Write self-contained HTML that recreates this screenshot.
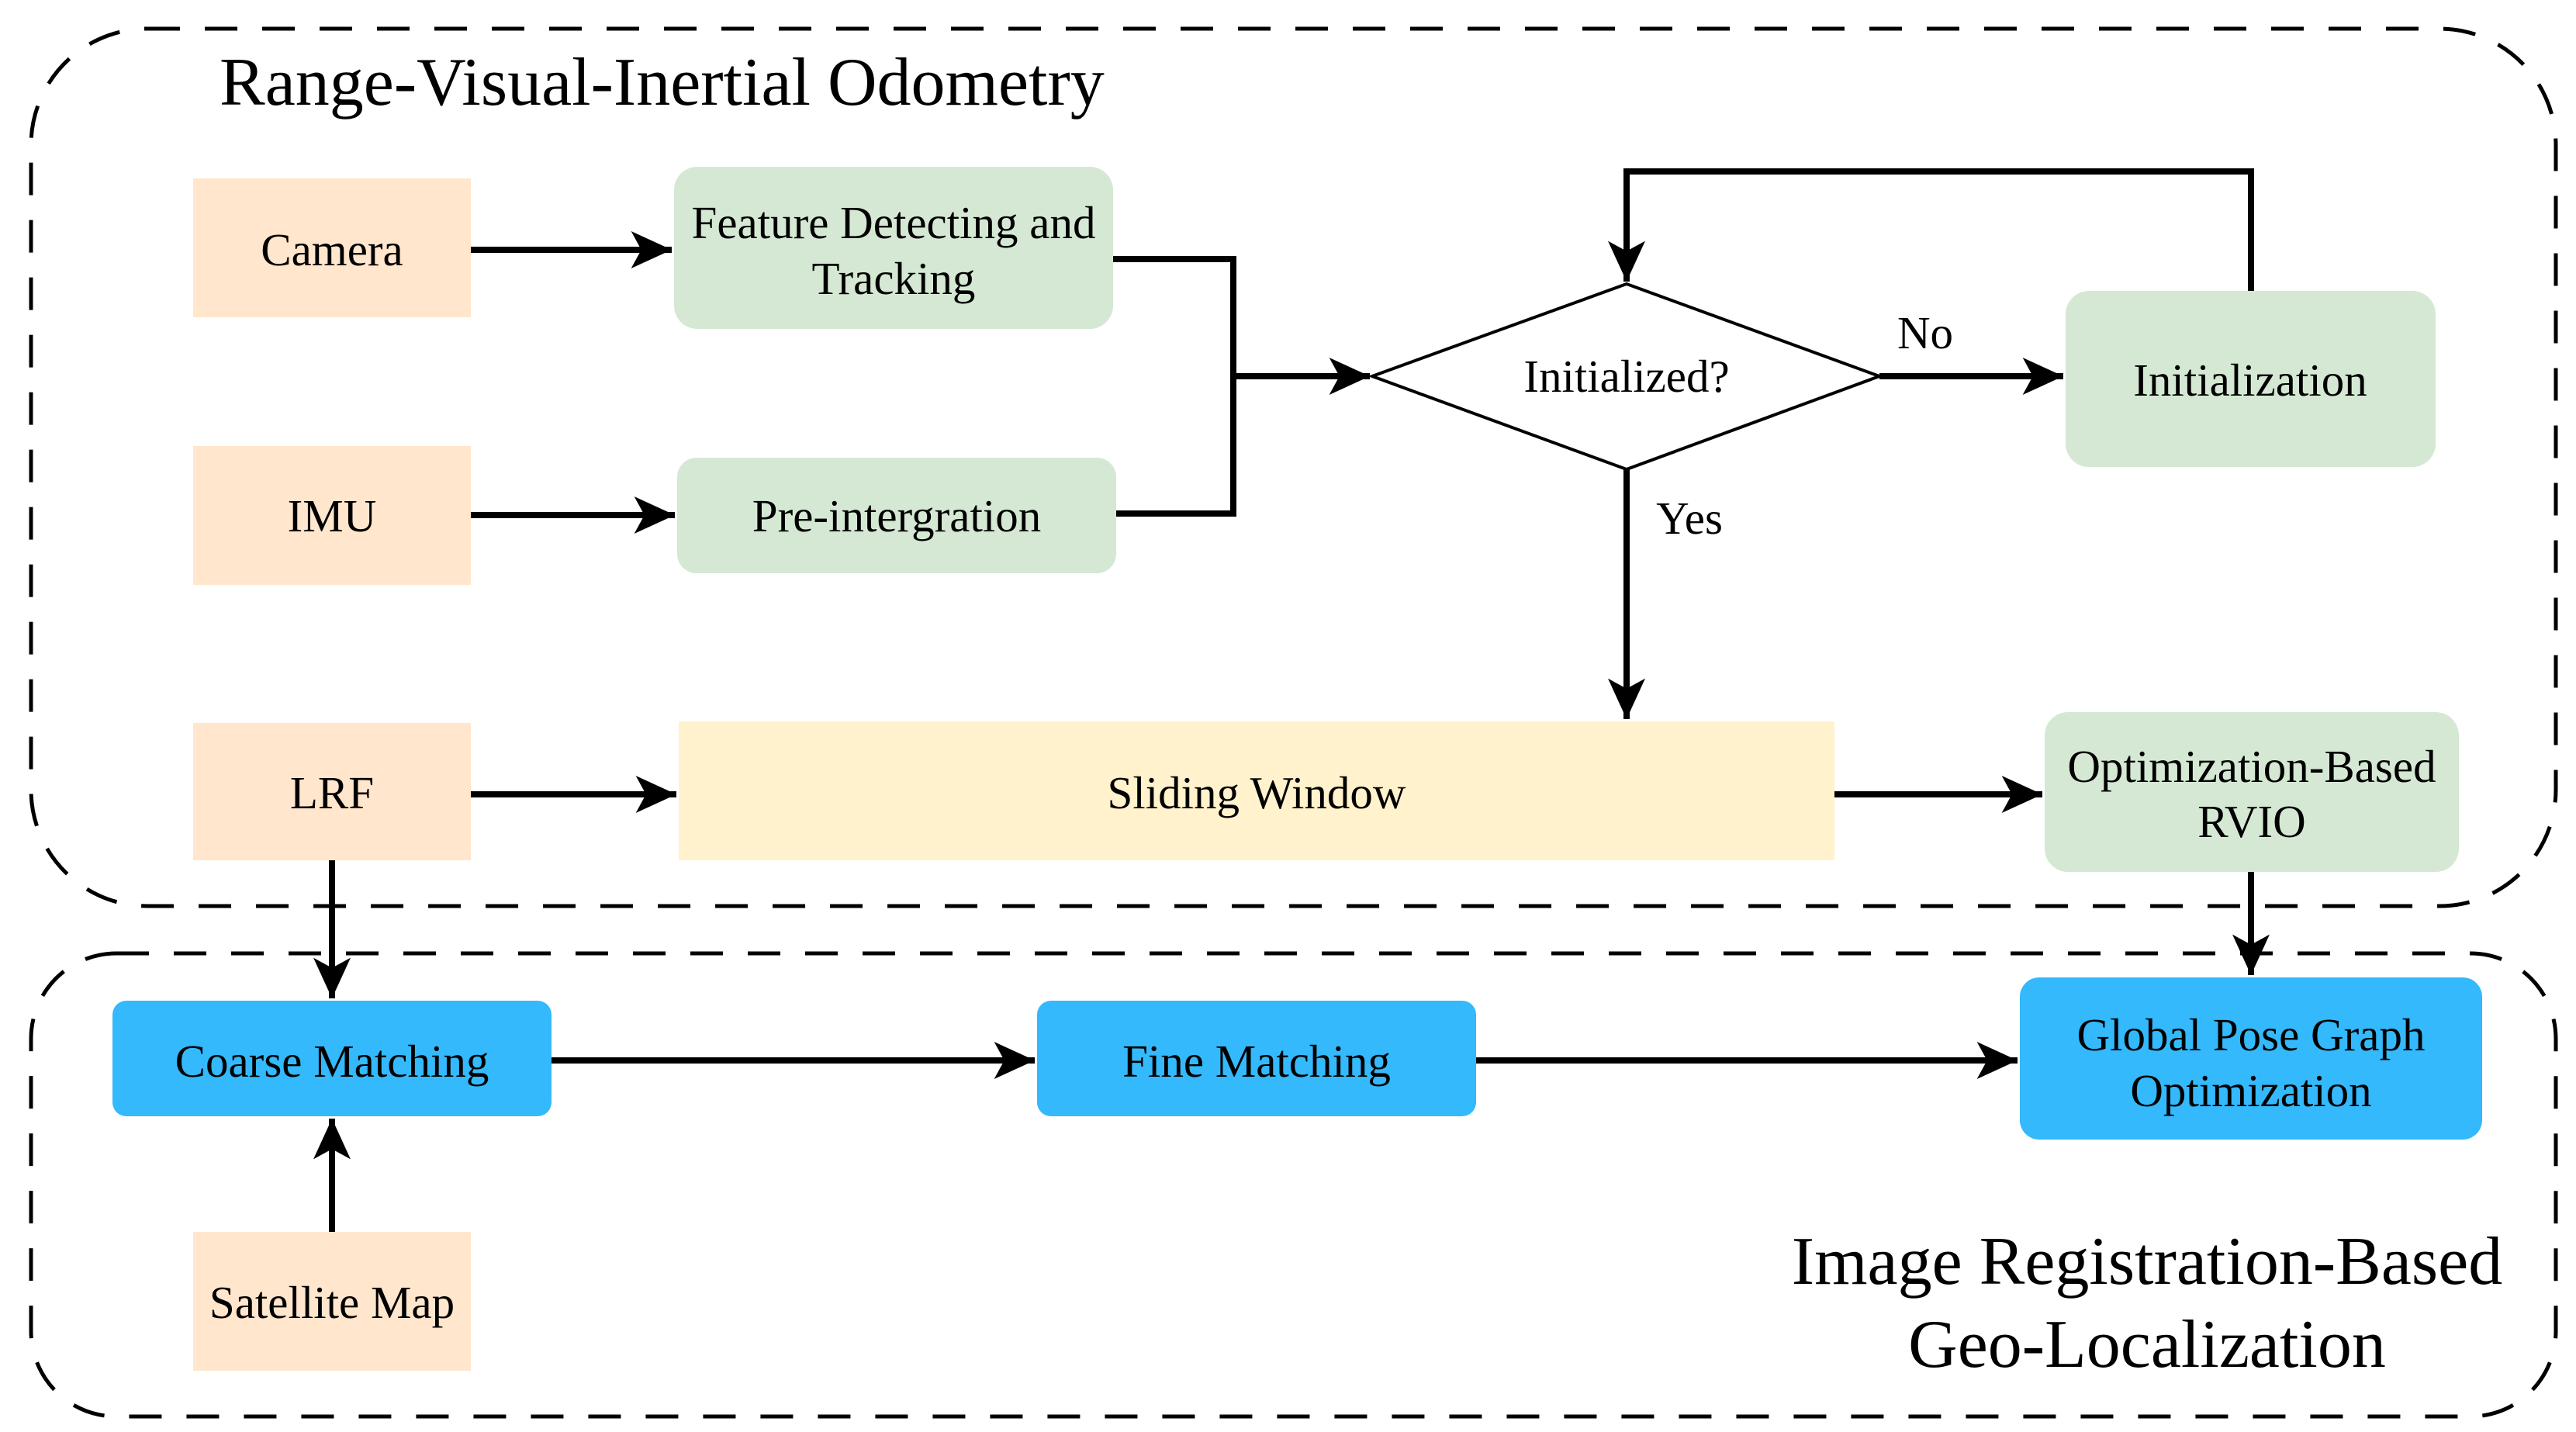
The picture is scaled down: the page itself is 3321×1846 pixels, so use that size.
<!DOCTYPE html>
<html><head><meta charset="utf-8"><style>
html,body{margin:0;padding:0;background:#fff;}
svg{display:block;}
text{font-family:"Liberation Serif",serif;fill:#000;}
</style></head><body>
<svg width="3321" height="1846" viewBox="0 0 3321 1846" xmlns="http://www.w3.org/2000/svg">
<defs>
<marker id="a" markerUnits="userSpaceOnUse" markerWidth="60" markerHeight="60" viewBox="-50 -25 55 50" refX="0" refY="0" orient="auto">
<path d="M-48,-22 L0,0 L-48,22 L-36,0 Z" fill="#000"/>
</marker>
</defs>
<rect x="40" y="37" width="3255" height="1131" rx="150" ry="150" fill="none" stroke="#000" stroke-width="5" stroke-dasharray="42 32"/>
<rect x="40" y="1229" width="3255" height="597" rx="110" ry="110" fill="none" stroke="#000" stroke-width="5" stroke-dasharray="42 32"/>

<text x="283" y="135" font-size="88">Range-Visual-Inertial Odometry</text>
<text x="2768" y="1655" font-size="88" text-anchor="middle">Image Registration-Based</text>
<text x="2768" y="1762" font-size="88" text-anchor="middle">Geo-Localization</text>

<g stroke="#000" stroke-width="8" fill="none">
<line x1="607" y1="322" x2="866" y2="322" marker-end="url(#a)"/>
<line x1="607" y1="664" x2="870" y2="664" marker-end="url(#a)"/>
<polyline points="1435,334 1590,334 1590,662 1439,662"/>
<line x1="1590" y1="485" x2="1766" y2="485" marker-end="url(#a)"/>
<line x1="2423" y1="485" x2="2660" y2="485" marker-end="url(#a)"/>
<polyline points="2902,375 2902,221 2097,221 2097,363" marker-end="url(#a)"/>
<line x1="2097" y1="605" x2="2097" y2="927" marker-end="url(#a)"/>
<line x1="607" y1="1024" x2="872" y2="1024" marker-end="url(#a)"/>
<line x1="2365" y1="1024" x2="2633" y2="1024" marker-end="url(#a)"/>
<line x1="2902" y1="1124" x2="2902" y2="1257" marker-end="url(#a)"/>
<line x1="428" y1="1109" x2="428" y2="1287" marker-end="url(#a)"/>
<line x1="428" y1="1588" x2="428" y2="1442" marker-end="url(#a)"/>
<line x1="711" y1="1367" x2="1334" y2="1367" marker-end="url(#a)"/>
<line x1="1903" y1="1367" x2="2601" y2="1367" marker-end="url(#a)"/>
</g>

<g>
<rect x="249" y="230" width="358" height="179" fill="#FFE6CC"/>
<rect x="249" y="575" width="358" height="179" fill="#FFE6CC"/>
<rect x="249" y="932" width="358" height="177" fill="#FFE6CC"/>
<rect x="249" y="1588" width="358" height="179" fill="#FFE6CC"/>
<rect x="869" y="215" width="566" height="209" rx="30" fill="#D5E8D4"/>
<rect x="873" y="590" width="566" height="149" rx="25" fill="#D5E8D4"/>
<rect x="875" y="930" width="1490" height="179" fill="#FFF2CC"/>
<polygon points="1769,485 2097,366 2423,485 2097,605" fill="#fff" stroke="#000" stroke-width="4"/>
<rect x="2663" y="375" width="477" height="227" rx="30" fill="#D5E8D4"/>
<rect x="2636" y="918" width="534" height="206" rx="30" fill="#D5E8D4"/>
<rect x="145" y="1290" width="566" height="149" rx="18" fill="#33B9FC"/>
<rect x="1337" y="1290" width="566" height="149" rx="18" fill="#33B9FC"/>
<rect x="2604" y="1260" width="596" height="209" rx="25" fill="#33B9FC"/>
</g>

<g font-size="59" text-anchor="middle">
<text x="428" y="342">Camera</text>
<text x="428" y="685">IMU</text>
<text x="428" y="1042">LRF</text>
<text x="428" y="1699">Satellite Map</text>
<text x="1152" y="307">Feature Detecting and</text>
<text x="1152" y="379">Tracking</text>
<text x="1156" y="685">Pre-intergration</text>
<text x="1620" y="1042">Sliding Window</text>
<text x="2097" y="505">Initialized?</text>
<text x="2482" y="449">No</text>
<text x="2178" y="688">Yes</text>
<text x="2901" y="510">Initialization</text>
<text x="2903" y="1008">Optimization-Based</text>
<text x="2903" y="1079">RVIO</text>
<text x="428" y="1388">Coarse Matching</text>
<text x="1620" y="1388">Fine Matching</text>
<text x="2902" y="1354">Global Pose Graph</text>
<text x="2902" y="1426">Optimization</text>
</g>
</svg>
</body></html>
